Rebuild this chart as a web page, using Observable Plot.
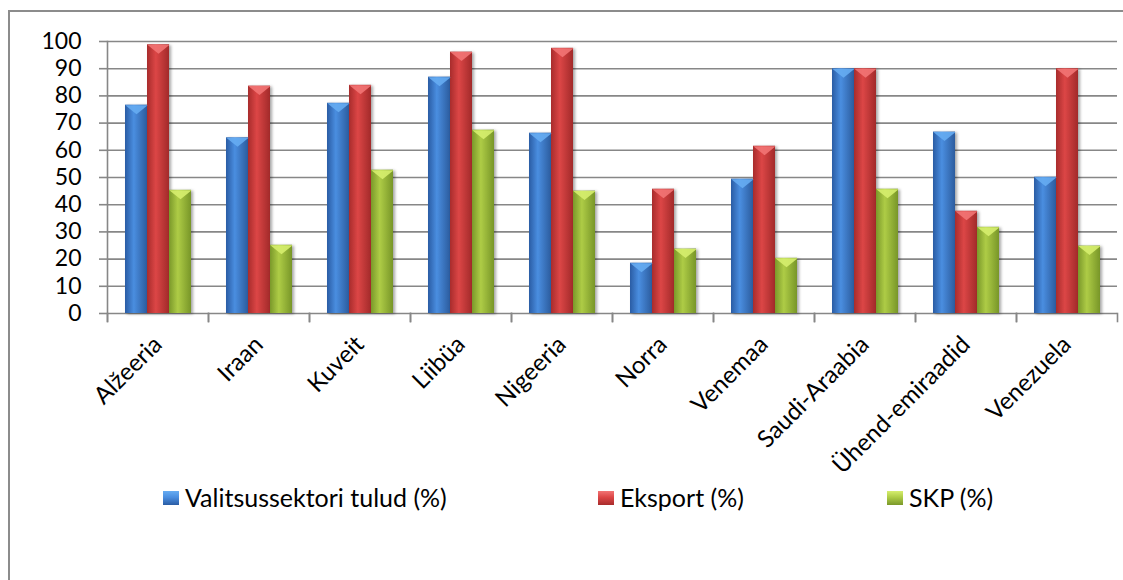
<!DOCTYPE html>
<html>
<head>
<meta charset="utf-8">
<script src="https://cdn.jsdelivr.net/npm/d3@7"></script>
<script src="https://cdn.jsdelivr.net/npm/@observablehq/plot@0.6"></script>
<style>
  html, body { margin: 0; padding: 0; background: #fff; width: 1123px; height: 580px; overflow: hidden; }
  #frame { position: absolute; left: 8px; top: 10px; width: 1200px; height: 700px; border-left: 2px solid #8c8c8c; border-top: 2px solid #8c8c8c; }
  #chart { position: absolute; left: 0; top: 0; }
  g[aria-label="bar"] rect { filter: drop-shadow(2px 1px 1.5px rgba(0,0,0,0.35)); }
  #legend { position: absolute; left: 0; top: 482px; width: 1123px; height: 32px; font-family: Lato, sans-serif; font-size: 25px; color: #000; }
  .item { position: absolute; top: 0; white-space: nowrap; line-height: 30px; }
  .sw { position: absolute; top: 9px; width: 16px; height: 14px; }
  .lbl { position: absolute; top: 0; }
</style>
</head>
<body>
<div id="frame"></div>
<div id="chart"></div>
<div id="legend"></div>
<script>
const countries = ["Alžeeria", "Iraan", "Kuveit", "Liibüa", "Nigeeria", "Norra", "Venemaa", "Saudi-Araabia", "Ühend-emiraadid", "Venezuela"];
const seriesNames = ["Valitsussektori tulud (%)", "Eksport (%)", "SKP (%)"];
const valitsus = [76.6, 64.6, 77.3, 86.9, 66.3, 18.5, 49.4, 90, 66.7, 50.1];
const eksport = [98.8, 83.6, 83.9, 96.1, 97.5, 45.7, 61.5, 90, 37.6, 90];
const skp = [45.3, 25.1, 52.7, 67.4, 45.0, 23.7, 20.3, 45.7, 31.7, 24.8];
const yTicks = [0, 10, 20, 30, 40, 50, 60, 70, 80, 90, 100];

const seriesValues = [valitsus, eksport, skp];
const gradStops = [
  ["#2a5ca4", "#4a8ee0", "#2c5c9e"],
  ["#a82c2c", "#dc4646", "#a22a2a"],
  ["#7a982a", "#aecc46", "#789628"]
];
const bevel = ["#66acf2", "#f27474", "#d6ee6e"];
const legendX = [163, 598, 887];

const data = countries.flatMap((c, i) => seriesNames.map((s, j) => ({country: c, series: s, value: seriesValues[j][i]})));

const grid = "#878787";

const plot = Plot.plot({
  width: 1123,
  height: 470,
  marginLeft: 106,
  marginRight: 5,
  marginTop: 41,
  marginBottom: 157,
  style: {fontFamily: "Lato, sans-serif", color: "#000", background: "transparent", overflow: "visible"},
  fx: {domain: countries, padding: 0, label: null},
  x: {domain: seriesNames, paddingInner: 0, paddingOuter: 0.74, axis: null},
  y: {domain: [0, 100], label: null},
  marks: [
    Plot.gridY(yTicks, {stroke: grid, strokeOpacity: 1, strokeWidth: 1.6}),
    Plot.frame({anchor: "left", facetAnchor: "left", stroke: grid, strokeOpacity: 1, strokeWidth: 1.6, insetBottom: -8}),
    Plot.frame({anchor: "left", stroke: grid, strokeOpacity: 1, strokeWidth: 1.6, insetTop: 272, insetBottom: -8}),
    Plot.frame({anchor: "right", stroke: grid, strokeOpacity: 1, strokeWidth: 1.6, insetTop: 272, insetBottom: -8}),
    Plot.axisY({ticks: yTicks, tickSize: 8, tickPadding: 18, stroke: grid, strokeWidth: 1.6, fontSize: 23, label: null}),
    Plot.axisFx({anchor: "bottom", tickRotate: -45, tickSize: 0, tickPadding: 27, fontSize: 24, label: null}),
    ...seriesNames.map((s, j) => Plot.barY(data.filter(d => d.series === s), {
      fx: "country", x: "series", y: "value", fill: `url(#grad${j})`
    })),
    ...seriesNames.map((s, j) => Plot.vector(data.filter(d => d.series === s), {
      fx: "country", x: "series", y: "value", shape: "spike", anchor: "start",
      rotate: 180, length: 9, r: 11.2, fill: bevel[j], stroke: "none", fillOpacity: 0.9
    }))
  ]
});

const svgEl = plot.tagName.toLowerCase() === "svg" ? plot : plot.querySelector("svg");
const NS = "http://www.w3.org/2000/svg";
const defs = document.createElementNS(NS, "defs");
gradStops.forEach((stops, j) => {
  const g = document.createElementNS(NS, "linearGradient");
  g.setAttribute("id", `grad${j}`);
  g.setAttribute("x1", "0"); g.setAttribute("x2", "1"); g.setAttribute("y1", "0"); g.setAttribute("y2", "0");
  [[0, stops[0]], [0.4, stops[1]], [1, stops[2]]].forEach(([o, c]) => {
    const st = document.createElementNS(NS, "stop");
    st.setAttribute("offset", o);
    st.setAttribute("stop-color", c);
    g.appendChild(st);
  });
  defs.appendChild(g);
});
svgEl.insertBefore(defs, svgEl.firstChild);
document.getElementById("chart").appendChild(plot);

const legend = document.getElementById("legend");
seriesNames.forEach((s, j) => {
  const item = document.createElement("div");
  item.className = "item";
  item.style.left = legendX[j] + "px";
  const sw = document.createElement("div");
  sw.className = "sw";
  sw.style.left = "0px";
  sw.style.background = `linear-gradient(to bottom, ${bevel[j]} 0%, ${gradStops[j][1]} 45%, ${gradStops[j][0]} 100%)`;
  const lbl = document.createElement("span");
  lbl.className = "lbl";
  lbl.style.left = "22px";
  lbl.textContent = s;
  item.appendChild(sw);
  item.appendChild(lbl);
  legend.appendChild(item);
});
</script>
</body>
</html>
